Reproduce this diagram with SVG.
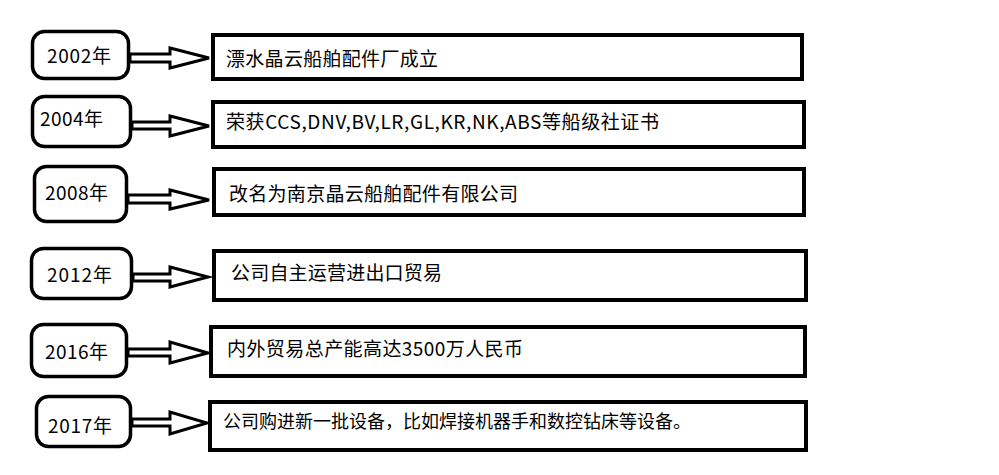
<svg xmlns="http://www.w3.org/2000/svg" width="999" height="475" viewBox="0 0 999 475">
<style>
.yr{fill:#fff;stroke:#000;stroke-width:3.5}
.bx{fill:#fff;stroke:#000;stroke-width:4}
.ar{fill:#fff;stroke:#000;stroke-width:3;stroke-linejoin:miter}
text{font-family:"Noto Sans CJK SC","Noto Sans",sans-serif;font-size:19px;fill:#000}
.sm{font-size:18px}
</style>
<rect width="999" height="475" fill="#fff"/>
<g id="connectors">
<polygon class="ar" points="130,54 170,54 170,48 209,58 170,68 170,62 130,62"/>
<polygon class="ar" points="132,122 170,122 170,116 209,126 170,136 170,129 132,129"/>
<polygon class="ar" points="128,195 170,195 170,190 209,200 170,209 170,203 128,203"/>
<polygon class="ar" points="133,274 170,274 170,267 208,277 170,287 170,281 133,281"/>
<polygon class="ar" points="128,349 170,349 170,342 208,353 170,363 170,356 128,356"/>
<polygon class="ar" points="132,419 170,419 170,412 207,423 170,434 170,426 132,426"/>
</g>
<g id="y2002"><rect class="yr" x="32.5" y="31.5" width="96" height="47" rx="12"/><text x="47" y="63" textLength="64">2002年</text></g>
<g id="y2004"><rect class="yr" x="32.5" y="96.5" width="98" height="50" rx="12"/><text x="40" y="126" textLength="63">2004年</text></g>
<g id="y2008"><rect class="yr" x="34.5" y="166.5" width="92" height="55" rx="12"/><text x="45" y="200" textLength="63">2008年</text></g>
<g id="y2012"><rect class="yr" x="31.5" y="248.5" width="100" height="50" rx="12"/><text x="47" y="282" textLength="65">2012年</text></g>
<g id="y2016"><rect class="yr" x="31.5" y="324.5" width="95" height="52" rx="12"/><text x="45" y="359" textLength="63">2016年</text></g>
<g id="y2017"><rect class="yr" x="36.5" y="396.5" width="94" height="50" rx="12"/><text x="48" y="433" textLength="64">2017年</text></g>
<g id="e2002"><rect class="bx" x="213" y="35" width="589" height="44"/><text x="226" y="66" textLength="212">漂水晶云船舶配件厂成立</text></g>
<g id="e2004"><rect class="bx" x="213" y="102" width="591" height="45"/><text x="226" y="129" textLength="433">荣获CCS,DNV,BV,LR,GL,KR,NK,ABS等船级社证书</text></g>
<g id="e2008"><rect class="bx" x="214" y="169" width="590" height="46"/><text x="229" y="201" textLength="289">改名为南京晶云船舶配件有限公司</text></g>
<g id="e2012"><rect class="bx" x="214" y="251" width="592" height="49"/><text x="231" y="280" textLength="211">公司自主运营进出口贸易</text></g>
<g id="e2016"><rect class="bx" x="211" y="327" width="594" height="49"/><text x="227" y="356" textLength="296">内外贸易总产能高达3500万人民币</text></g>
<g id="e2017"><rect class="bx" x="210" y="402" width="596" height="48"/><text class="sm" x="223" y="428">公司购进新一批设备，比如焊接机器手和数控钻床等设备。</text></g>
</svg>
